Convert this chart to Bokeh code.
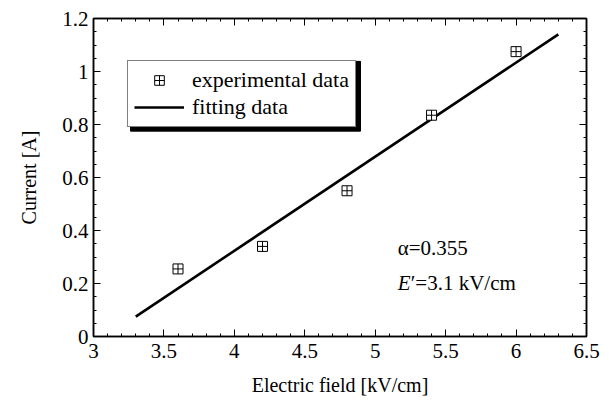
import numpy as np
from bokeh.plotting import figure
from bokeh.models import (Legend, LegendItem, Label, LinearAxis, FixedTicker,
                          CustomJSTickFormatter, Range1d, BoxAnnotation)
from bokeh.embed import file_html
from bokeh.resources import INLINE

# ---- data ----
field = [3.6, 4.2, 4.8, 5.4, 6.0]            # kV/cm
current = [0.255, 0.34, 0.55, 0.835, 1.075]  # A
fit_x = [3.3, 6.3]
fit_y = [0.075, 1.14]
x_ticks = [3.0, 3.5, 4.0, 4.5, 5.0, 5.5, 6.0, 6.5]
y_ticks = [0.0, 0.2, 0.4, 0.6, 0.8, 1.0, 1.2]
x_range = (3.0, 6.5)
y_range = (0.0, 1.2)
alpha_text = "α=0.355"
e_text = "′=3.1 kV/cm"

FONT = "Liberation Serif"
FRAME_W, FRAME_H = 493, 319


def minors(ticks, n):
    out = []
    for a, b in zip(ticks[:-1], ticks[1:]):
        out.extend(list(np.linspace(a, b, n + 1)[1:-1]))
    return out


x_ticker = FixedTicker(ticks=x_ticks, minor_ticks=minors(x_ticks, 5))
y_ticker = FixedTicker(ticks=y_ticks, minor_ticks=minors(y_ticks, 4))

p = figure(width=601, height=398, output_backend="svg", toolbar_location=None,
           x_range=Range1d(*x_range), y_range=Range1d(*y_range),
           min_border_left=93, min_border_right=15, min_border_top=18, min_border_bottom=61,
           x_axis_label="Electric field [kV/cm]", y_axis_label="Current [A]")
p.grid.visible = False
p.outline_line_color = "black"
p.outline_line_width = 1.5
p.background_fill_color = "white"
p.border_fill_color = "white"

fmt = CustomJSTickFormatter(code="return String(Math.round(tick*10)/10);")
empty = CustomJSTickFormatter(code="return '';")


def style(ax, xdir, labels=True):
    ax.ticker = x_ticker if xdir else y_ticker
    ax.formatter = fmt if labels else empty
    ax.axis_line_color = "black"
    ax.axis_line_width = 1.5
    ax.major_tick_in = 7
    ax.major_tick_out = 0
    ax.minor_tick_in = 3
    ax.minor_tick_out = 0
    ax.major_tick_line_color = "black"
    ax.minor_tick_line_color = "black"
    ax.major_tick_line_width = 1
    ax.minor_tick_line_width = 1
    ax.major_label_text_font = FONT
    ax.major_label_text_font_size = "21px"
    ax.major_label_text_color = "black"
    ax.axis_label_text_font = FONT
    ax.axis_label_text_font_size = "20px"
    ax.axis_label_text_font_style = "normal"
    ax.axis_label_text_color = "black"


style(p.xaxis[0], True)
style(p.yaxis[0], False)
p.xaxis[0].major_label_standoff = 7
p.xaxis[0].axis_label_standoff = 13
p.yaxis[0].major_label_standoff = 5
p.yaxis[0].axis_label_standoff = 19

top = LinearAxis()
right = LinearAxis()
style(top, True, labels=False)
style(right, False, labels=False)
p.add_layout(top, "above")
p.add_layout(right, "right")

ln = p.line(fit_x, fit_y, line_color="black", line_width=2.6)
sc = p.scatter(field, current, marker="square_cross", size=10, line_color="black",
               line_width=1, fill_color="white")


# legend shadow (layout, in frame pixels -> data units)
def px2x(px):
    return x_range[0] + px / FRAME_W * (x_range[1] - x_range[0])


def px2y(py):
    return y_range[0] + py / FRAME_H * (y_range[1] - y_range[0])


LEG_L, LEG_B, LEG_W, LEG_H, SH = 34, 209, 230, 70, 3
shadow = BoxAnnotation(left=px2x(LEG_L + SH), right=px2x(LEG_L + LEG_W + SH),
                       bottom=px2y(LEG_B - SH), top=px2y(LEG_B + LEG_H - SH),
                       fill_color="black", fill_alpha=1, line_color="black", line_alpha=1)
p.add_layout(shadow)

legend = Legend(items=[LegendItem(label="experimental data", renderers=[sc]),
                       LegendItem(label="fitting data", renderers=[ln])],
                location=(LEG_L, LEG_B), margin=0, padding=6, spacing=1,
                glyph_width=50, glyph_height=24, label_height=24, label_standoff=8,
                label_text_font=FONT, label_text_font_size="22px", label_text_color="black",
                border_line_color="black", border_line_width=1.5,
                background_fill_color="white", background_fill_alpha=1)
p.add_layout(legend, "center")

p.add_layout(Label(x=5.16, y=0.335, text=alpha_text, text_font=FONT, text_font_size="21px",
                   text_baseline="middle", text_color="black"))
p.add_layout(Label(x=5.16, y=0.203, text="E", text_font=FONT, text_font_size="21px",
                   text_font_style="italic", text_baseline="middle", text_color="black"))
p.add_layout(Label(x=5.16, y=0.203, x_offset=13, text=e_text, text_font=FONT,
                   text_font_size="21px", text_baseline="middle", text_color="black"))

open("out.html", "w").write(file_html(p, INLINE))
